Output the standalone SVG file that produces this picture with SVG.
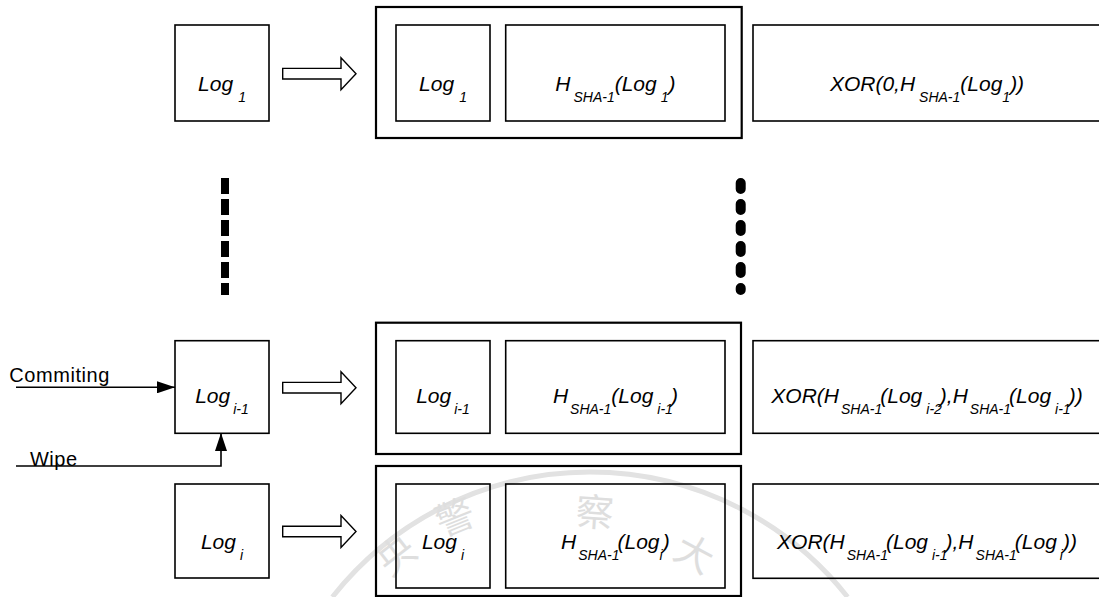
<svg xmlns="http://www.w3.org/2000/svg" width="1099" height="597" viewBox="0 0 1099 597">
<style>
.bx{fill:none;stroke:#000;stroke-width:1.6}
.ob{fill:none;stroke:#000;stroke-width:2.2}
.ar{fill:#fff;stroke:#000;stroke-width:1.4;stroke-linejoin:miter}
.f{font-family:"Liberation Sans",Arial,sans-serif;font-style:italic;font-size:21px;fill:#000;text-anchor:middle}
.s{font-size:14px}
.lb{font-family:"Liberation Sans",Arial,sans-serif;font-size:20px;fill:#000}
.cn{fill:none;stroke:#000;stroke-width:1.6}
.wm{font-family:"Noto Sans CJK TC","Noto Sans CJK SC",sans-serif;font-size:38px;fill:#dedede;text-anchor:middle}
</style>
<defs>
<marker id="ah" viewBox="0 0 18 12" refX="18" refY="6" markerWidth="18" markerHeight="12" markerUnits="userSpaceOnUse" orient="auto">
<path d="M0,0 L18,6 L0,12 Z" fill="#000"/>
</marker>
<path id="blk" d="M282.7,-5.3 H341 V-16 L356,0 L341,16 V5.3 H282.7 Z"/>
</defs>
<g id="watermark">
<path d="M332.4,597 A328,328 0 0 1 847.6,597" fill="none" stroke="#e2e2e2" stroke-width="5"/>
<text class="wm" transform="translate(405,566) rotate(-38)">央</text>
<text class="wm" transform="translate(460,530) rotate(-22)">警</text>
<text class="wm" transform="translate(594,526) rotate(4)">察</text>
<text class="wm" transform="translate(688,566) rotate(28)">大</text>
</g>
<g id="connectors">
<use href="#blk" class="ar" transform="translate(0,73.7)"/>
<use href="#blk" class="ar" transform="translate(0,387.7)"/>
<use href="#blk" class="ar" transform="translate(0,531.5)"/>
<path class="cn" d="M16,387.3 H175" marker-end="url(#ah)"/>
<path class="cn" d="M16,466 H221 V433" marker-end="url(#ah)"/>
<line x1="225" y1="178" x2="225" y2="295" stroke="#000" stroke-width="8" stroke-dasharray="16 5"/>
<line x1="740.7" y1="183" x2="740.7" y2="290" stroke="#000" stroke-width="10" stroke-linecap="round" stroke-dasharray="6 15"/>
<text class="lb" x="9.3" y="381.7" textLength="100">Commiting</text>
<text class="lb" x="30" y="466" textLength="47">Wipe</text>
</g>
<g id="log1">
<rect class="bx" x="175" y="25" width="94" height="96"/>
<text class="f" x="222" y="90.7">Log<tspan class="s" dx="5" dy="11">1</tspan></text>
</g>
<g id="rec1">
<rect class="ob" x="376" y="7" width="365.7" height="131"/>
<rect class="bx" x="396" y="25" width="94" height="96"/>
<text class="f" x="443" y="90.7">Log<tspan class="s" dx="5" dy="11">1</tspan></text>
<rect class="bx" x="505.7" y="25" width="219.3" height="96"/>
<text class="f" x="615.4" y="90.7">H<tspan class="s" dx="3" dy="11">SHA-1</tspan><tspan dy="-11">(Log</tspan><tspan class="s" dx="4" dy="11">1</tspan><tspan dy="-11">)</tspan></text>
</g>
<g id="xor1">
<rect class="bx" x="753" y="25" width="348" height="96"/>
<text class="f" x="927" y="90.7">XOR(0,H<tspan class="s" dx="4" dy="11">SHA-1</tspan><tspan dy="-11">(Log</tspan><tspan class="s" dy="11">1</tspan><tspan dy="-11">))</tspan></text>
</g>
<g id="logi1">
<rect class="bx" x="175" y="340.7" width="94" height="92.6"/>
<text class="f" x="222" y="403.3">Log<tspan class="s" dx="3" dy="11">i-1</tspan></text>
</g>
<g id="rec2">
<rect class="ob" x="376" y="322.7" width="365" height="131.3"/>
<rect class="bx" x="396" y="340.7" width="94" height="92.6"/>
<text class="f" x="443" y="403.3">Log<tspan class="s" dx="3" dy="11">i-1</tspan></text>
<rect class="bx" x="505.7" y="340.7" width="219.3" height="92.6"/>
<text class="f" x="615.4" y="403.3">H<tspan class="s" dx="2" dy="11">SHA-1</tspan><tspan dy="-11">(Log</tspan><tspan class="s" dx="4" dy="11">i-1</tspan><tspan dx="-2" dy="-11">)</tspan></text>
</g>
<g id="xor2">
<rect class="bx" x="753" y="340.7" width="348" height="92.6"/>
<text class="f" x="927" y="403.3">XOR(H<tspan class="s" dx="2" dy="11">SHA-1</tspan><tspan dx="-2" dy="-11">(Log</tspan><tspan class="s" dx="4" dy="11">i-2</tspan><tspan dx="-2" dy="-11">),H</tspan><tspan class="s" dx="2" dy="11">SHA-1</tspan><tspan dx="-2" dy="-11">(Log</tspan><tspan class="s" dx="4" dy="11">i-1</tspan><tspan dx="-2" dy="-11">))</tspan></text>
</g>
<g id="logi">
<rect class="bx" x="175" y="484" width="94" height="94"/>
<text class="f" x="222" y="548.5">Log<tspan class="s" dx="4" dy="11">i</tspan></text>
</g>
<g id="rec3">
<rect class="ob" x="376" y="466" width="365" height="130"/>
<rect class="bx" x="396" y="484" width="94" height="104"/>
<text class="f" x="443" y="548.5">Log<tspan class="s" dx="4" dy="11">i</tspan></text>
<rect class="bx" x="505.7" y="484" width="219.3" height="104"/>
<text class="f" x="615.4" y="548.5">H<tspan class="s" dx="2" dy="11">SHA-1</tspan><tspan dx="-2" dy="-11">(Log</tspan><tspan class="s" dy="11">i</tspan><tspan dy="-11">)</tspan></text>
</g>
<g id="xor3">
<rect class="bx" x="753" y="484" width="348" height="94.3"/>
<text class="f" x="927" y="548.5">XOR(H<tspan class="s" dx="2" dy="11">SHA-1</tspan><tspan dx="-2" dy="-11">(Log</tspan><tspan class="s" dx="4" dy="11">i-1</tspan><tspan dx="-2" dy="-11">),H</tspan><tspan class="s" dx="2" dy="11">SHA-1</tspan><tspan dx="-2" dy="-11">(Log</tspan><tspan class="s" dx="3" dy="11">i</tspan><tspan dy="-11">))</tspan></text>
</g>
</svg>
